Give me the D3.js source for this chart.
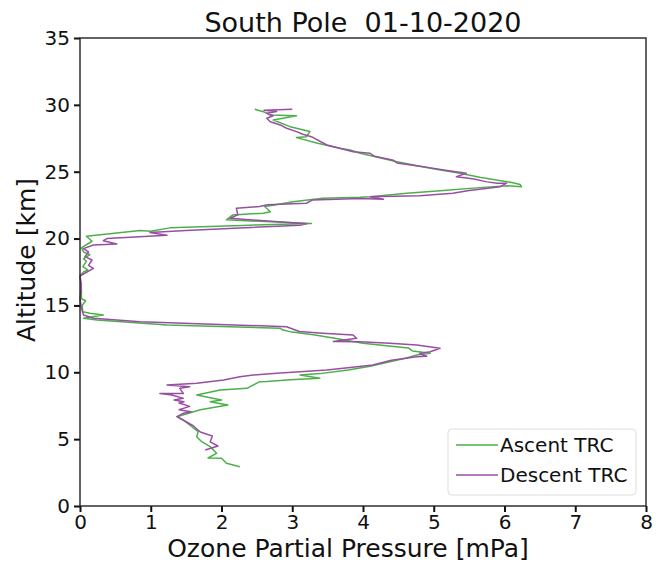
<!DOCTYPE html>
<html>
<head>
<meta charset="utf-8">
<script src="https://d3js.org/d3.v7.min.js"></script>
<style>
  body { margin: 0; background: #fff; }
  text { font-family: "DejaVu Sans", sans-serif; fill: #111; }
</style>
</head>
<body>
<svg id="chart" width="656" height="562"></svg>
<script>
// ozone partial pressure [mPa] vs altitude [km]
var ascentP = [2.26, 2.07, 2.00, 1.81, 1.93, 1.84, 1.72, 1.65, 1.67, 1.55, 1.46, 1.37, 1.70, 2.09, 1.84, 2.00, 1.65, 1.98, 2.36, 2.54, 2.64,
	2.97, 3.39, 3.11, 3.39, 3.79, 4.10, 4.38, 4.60, 4.76, 4.95, 4.70, 4.64, 4.30, 4.00, 3.58, 3.30, 2.97, 2.87, 2.83, 1.23, 0.24, 0.05,
	0.33, 0.14, 0.04, 0.03, 0.08, 0.02, 0.02, 0.00, 0.05, 0.11, 0.04, 0.09, 0.05, 0.14, 0.05, 0.02, 0.17, 0.09, 0.85, 1.00, 1.27, 2.40,
	3.27, 2.07, 2.16, 2.59, 2.69, 2.61, 2.73, 3.01, 3.43, 3.96, 4.10, 4.62, 5.09, 5.65, 6.04, 6.24, 6.22, 6.12, 5.65, 5.37, 4.95, 4.48,
	3.96, 3.82, 3.67, 3.36, 3.06, 3.20, 3.25, 2.97, 2.73, 3.06, 2.69, 2.59, 2.47];
var ascentAlt = [2.94, 3.19, 3.57, 3.59, 3.94, 4.44, 4.81, 5.18, 5.56, 6.06, 6.43, 6.68, 7.20, 7.55, 7.80, 7.93, 8.30, 8.68, 8.80, 9.30, 9.32,
	9.45, 9.55, 9.80, 9.90, 10.17, 10.45, 10.79, 11.05, 11.29, 11.42, 11.60, 11.82, 12.00, 12.17, 12.57, 12.80, 13.04, 13.16, 13.29, 13.54, 13.91, 14.04,
	14.29, 14.41, 14.53, 15.00, 15.35, 15.50, 16.20, 17.20, 17.50, 17.65, 17.90, 18.30, 18.50, 18.80, 19.00, 19.30, 19.80, 20.17, 20.60, 20.55, 20.80, 21.00,
	21.12, 21.40, 21.77, 21.90, 22.00, 22.40, 22.50, 22.76, 23.01, 23.09, 23.13, 23.39, 23.58, 23.81, 23.95, 23.88, 24.05, 24.18, 24.58, 24.88, 25.26, 25.75,
	26.38, 26.63, 26.75, 27.13, 27.55, 27.62, 28.00, 28.37, 28.87, 29.19, 29.24, 29.49, 29.67];

var descentP = [1.77, 1.95, 1.84, 1.87, 1.70, 1.60, 1.50, 1.37, 1.46, 1.57, 1.40, 1.55, 1.40, 1.47, 1.33, 1.46, 1.30, 1.13, 1.46, 1.41, 1.55,
	1.23, 1.65, 2.03, 2.26, 2.45, 2.78, 3.49, 3.72, 4.14, 4.40, 4.76, 4.90, 4.80, 4.95, 5.09, 4.76, 4.38, 3.96, 3.58, 3.91, 3.86, 3.43,
	3.10, 2.92, 0.85, 0.19, 0.05, 0.02, 0.00, 0.02, 0.00, 0.19, 0.12, 0.17, 0.07, 0.12, 0.05, 0.19, 0.52, 0.33, 0.38, 1.23, 0.99, 1.50,
	3.11, 3.20, 2.12, 2.23, 2.21, 2.54, 2.65, 3.00, 3.20, 3.29, 3.96, 4.29, 4.10, 4.80, 5.27, 5.50, 5.94, 6.03, 5.90, 5.75, 5.57, 5.32,
	5.46, 5.14, 4.85, 4.48, 4.43, 4.15, 4.10, 3.86, 3.67, 3.49, 3.27, 3.15, 3.06, 2.92, 2.83, 2.69, 2.64, 2.73, 2.64, 2.78, 2.60, 3.00];
var descentAlt = [4.19, 4.49, 4.79, 5.24, 5.53, 6.00, 6.30, 6.68, 6.93, 7.05, 7.20, 7.45, 7.70, 7.80, 7.93, 8.05, 8.30, 8.42, 8.42, 8.80, 8.92,
	9.05, 9.18, 9.42, 9.67, 9.80, 9.92, 10.17, 10.30, 10.55, 10.90, 11.17, 11.20, 11.40, 11.54, 11.80, 12.04, 12.17, 12.29, 12.30, 12.54, 12.79, 12.92,
	13.05, 13.41, 13.78, 14.04, 14.29, 14.80, 15.50, 16.50, 17.20, 17.77, 18.00, 18.40, 18.65, 19.00, 19.25, 19.52, 19.60, 19.84, 20.00, 20.25, 20.45, 20.60,
	21.00, 21.10, 21.52, 21.77, 22.27, 22.40, 22.53, 22.60, 22.64, 22.89, 23.00, 22.94, 23.13, 23.20, 23.39, 23.60, 23.88, 24.14, 24.14, 24.24, 24.45, 24.63,
	24.88, 25.13, 25.38, 25.65, 25.85, 26.18, 26.38, 26.50, 26.75, 27.00, 27.62, 27.80, 28.00, 28.25, 28.50, 28.74, 29.00, 29.19, 29.37, 29.50, 29.60, 29.67];

var xTicks = [0, 1, 2, 3, 4, 5, 6, 7, 8];
var yTicks = [0, 5, 10, 15, 20, 25, 30, 35];
var seriesNames = ["Ascent TRC", "Descent TRC"];
var seriesColors = ["#4daf4a", "#984ea3"];

var margin = {left: 80, right: 10, top: 38, bottom: 56};
var width = 656 - margin.left - margin.right;
var height = 562 - margin.top - margin.bottom;

var svg = d3.select("#chart");
var g = svg.append("g").attr("transform", "translate(" + margin.left + "," + margin.top + ")");

var x = d3.scaleLinear().domain([0, 8]).range([0, width]);
var y = d3.scaleLinear().domain([0, 35]).range([height, 0]);

var line = d3.line()
	.x(function (d) { return x(d[0]); })
	.y(function (d) { return y(d[1]); });

var series = [d3.zip(ascentP, ascentAlt), d3.zip(descentP, descentAlt)];

g.selectAll("path.profile")
	.data(series)
	.enter().append("path")
	.attr("class", "profile")
	.attr("d", line)
	.attr("fill", "none")
	.attr("stroke", function (d, i) { return seriesColors[i]; })
	.attr("stroke-width", 1.5)
	.attr("stroke-linejoin", "round");

// axes
var xAxis = g.append("g")
	.attr("transform", "translate(0," + height + ")")
	.call(d3.axisBottom(x).tickValues(xTicks).tickSize(6).tickPadding(3).tickFormat(d3.format("d")));
var yAxis = g.append("g")
	.call(d3.axisLeft(y).tickValues(yTicks).tickSize(6).tickPadding(4).tickFormat(d3.format("d")));

[xAxis, yAxis].forEach(function (a) {
	a.select(".domain").remove();
	a.selectAll(".tick line").attr("stroke", "#111").attr("stroke-width", 2);
	a.selectAll(".tick text").style("font-size", "20px").attr("fill", "#111");
});

// frame
g.append("rect")
	.attr("x", 0).attr("y", 0)
	.attr("width", width).attr("height", height)
	.attr("fill", "none")
	.attr("stroke", "#222")
	.attr("stroke-width", 1.4);

// labels
svg.append("text")
	.attr("x", margin.left + width / 2).attr("y", 32)
	.attr("text-anchor", "middle")
	.style("font-size", "27px")
	.style("white-space", "pre")
	.text("South Pole  01-10-2020");

svg.append("text")
	.attr("x", 348).attr("y", 557)
	.attr("text-anchor", "middle")
	.style("font-size", "25px")
	.text("Ozone Partial Pressure [mPa]");

svg.append("text")
	.attr("transform", "translate(35,260) rotate(-90)")
	.attr("text-anchor", "middle")
	.style("font-size", "25px")
	.text("Altitude [km]");

// legend
var legend = svg.append("g").attr("transform", "translate(448,429)");
legend.append("rect")
	.attr("width", 188).attr("height", 66)
	.attr("rx", 4)
	.attr("fill", "#fff").attr("fill-opacity", 0.8)
	.attr("stroke", "#ddd");

var items = legend.selectAll("g.item")
	.data(seriesNames)
	.enter().append("g")
	.attr("class", "item")
	.attr("transform", function (d, i) { return "translate(0," + (16 + i * 30) + ")"; });
items.append("line")
	.attr("x1", 8).attr("x2", 50)
	.attr("stroke", function (d, i) { return seriesColors[i]; })
	.attr("stroke-width", 1.5);
items.append("text")
	.attr("x", 52).attr("y", 7)
	.style("font-size", "20px")
	.text(function (d) { return d; });
</script>
</body>
</html>
